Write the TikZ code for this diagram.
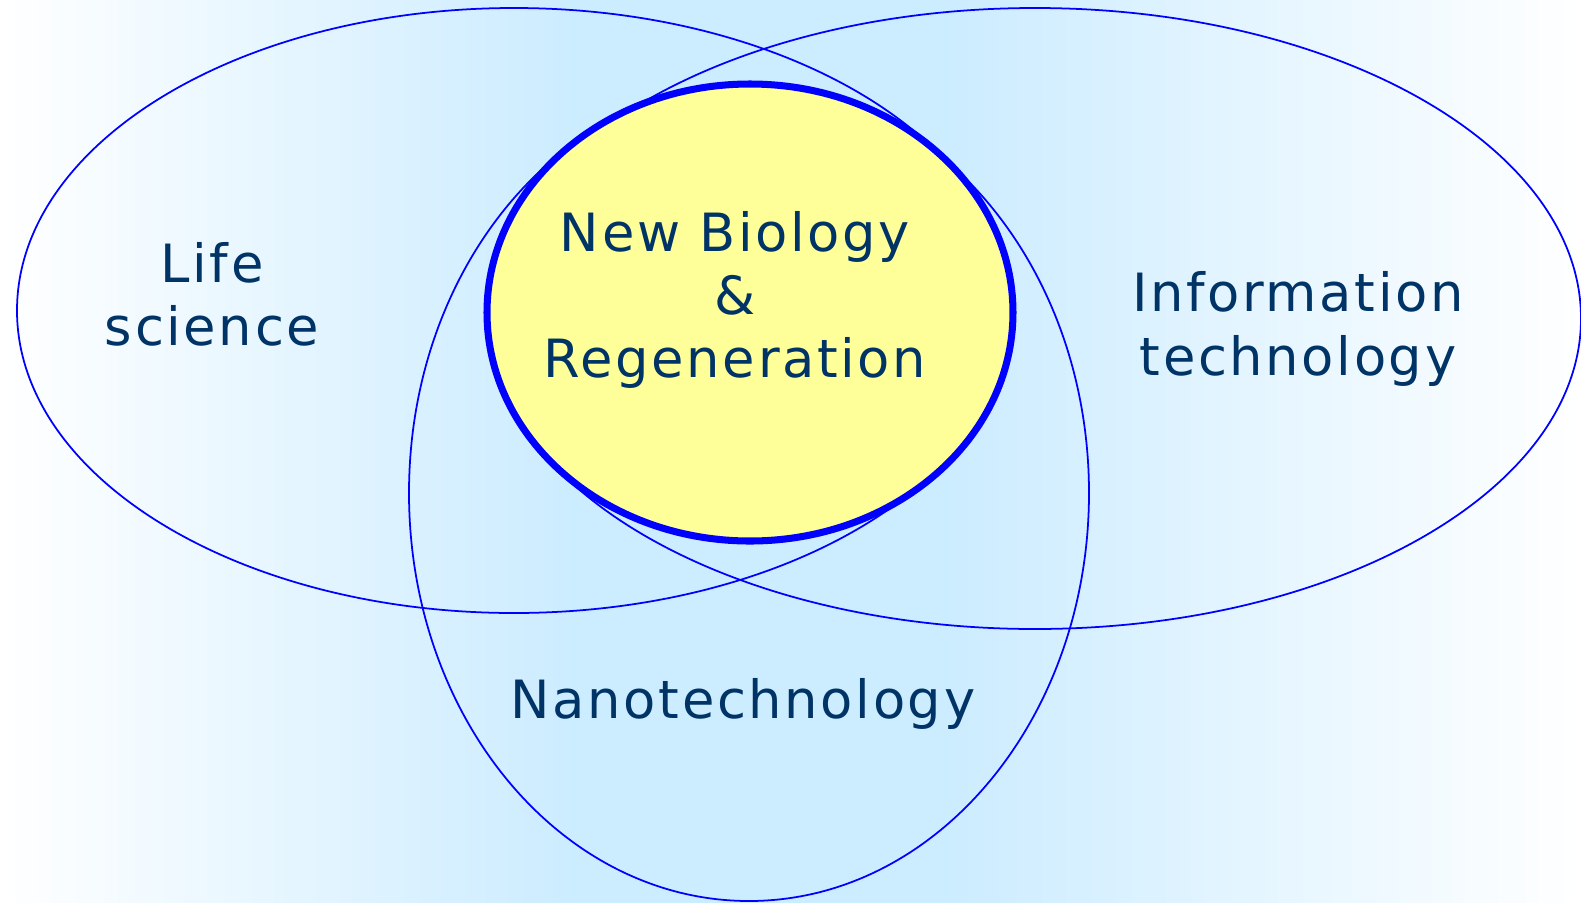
\documentclass[tikz,border=0pt]{standalone}
\usepackage{fontspec}
\usetikzlibrary{shapes.geometric,positioning}
\newfontfamily\labelfont{DejaVu Sans}[LetterSpace=5]

\definecolor{bgblue}{RGB}{204,236,255}
\definecolor{navytext}{RGB}{0,51,102}
\definecolor{paleyellow}{RGB}{255,255,153}

% tikz maps the path onto the 25bp--75bp part of the shading
\pgfdeclarehorizontalshading{bgshade}{100bp}{color(0bp)=(white); color(25bp)=(white); color(43bp)=(bgblue); color(55bp)=(bgblue); color(75bp)=(white); color(100bp)=(white)}

\tikzset{
  field/.style={draw=blue, line width=0.5pt, ellipse, inner sep=0pt},
  core/.style={draw=blue, line width=2pt, fill=paleyellow, ellipse, inner sep=0pt},
  lbl/.style={text=navytext, align=center, font=\labelfont\fontsize{15}{18}\selectfont}
}

\begin{document}
\begin{tikzpicture}
        %\draw [help lines] (0,0) grid (16,9);

        \shade[shading=bgshade] (0,0) rectangle (15.81,9.02);
        \useasboundingbox (0,0) rectangle (15.81,9.02);

        \node [field, minimum width=9.94cm, minimum height=6.05cm] (life) at (5.14,5.915) {};
        \node [field, minimum width=10.92cm, minimum height=6.21cm] (info) at (10.35,5.835) {};
        \node [field, minimum width=6.80cm, minimum height=8.16cm] (nano) at (7.49,4.09) {};

        \node [core, minimum width=5.26cm, minimum height=4.57cm] (newbio) at (7.50,5.895) {};

        \node [lbl] (lifetext) at (2.12,6.08) {Life\\science};
        \node [lbl] (infotext) at (12.98,5.73) {Information\\technology};
        \node [lbl] (nanotext) at (7.43,1.98) {Nanotechnology};
        \node [lbl] (newbiotext) at (7.35,6.02) {New Biology\\\&\\Regeneration};

    \end{tikzpicture}
\end{document}
